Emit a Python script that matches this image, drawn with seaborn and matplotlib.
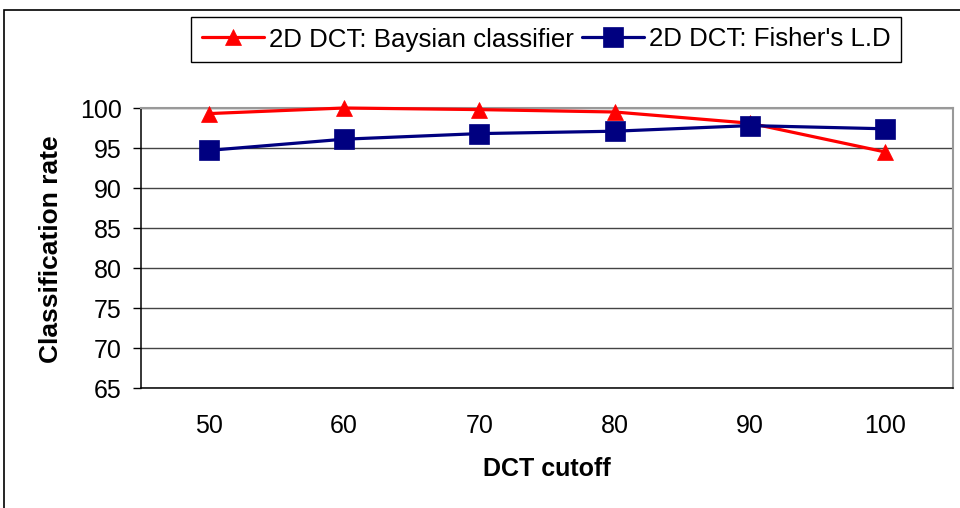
import matplotlib
matplotlib.use("Agg")
import matplotlib.pyplot as plt
from matplotlib.patches import Rectangle
from matplotlib.ticker import FixedLocator
import pandas as pd
import seaborn as sns

# DCT cutoff levels and recognition rates (%) for the two classifiers
cutoffs = ["50", "60", "70", "80", "90", "100"]
bayes_rates = [99.3, 100.0, 99.8, 99.5, 98.1, 94.5]
fisher_rates = [94.7, 96.1, 96.8, 97.1, 97.8, 97.4]
series_names = ["2D DCT: Baysian classifier", "2D DCT: Fisher's L.D"]
y_ticks = [65, 70, 75, 80, 85, 90, 95, 100]

df = pd.DataFrame({
    "cutoff": cutoffs * 2,
    "rate": bayes_rates + fisher_rates,
    "method": [series_names[0]] * len(cutoffs) + [series_names[1]] * len(cutoffs),
})

sns.set_theme(style="white")
plt.rcParams["font.family"] = ["Liberation Sans", "DejaVu Sans"]
plt.rcParams.update({
    "text.color": "black",
    "axes.labelcolor": "black",
    "xtick.color": "black",
    "ytick.color": "black",
})

W, H = 960, 508
fig = plt.figure(figsize=(W / 100, H / 100), dpi=100)
ax = fig.add_axes([141 / W, 1 - 388 / H, (953 - 141) / W, (388 - 108) / H])

styles = {
    series_names[0]: dict(color="#FF0000", marker="^", markersize=11),
    series_names[1]: dict(color="#000080", marker="s", markersize=14),
}
for name in series_names:
    st = styles[name]
    sns.lineplot(
        data=df[df["method"] == name], x="cutoff", y="rate", ax=ax,
        sort=False, color=st["color"], marker=st["marker"],
        markersize=st["markersize"], markeredgecolor=st["color"],
        markeredgewidth=0.5, linewidth=2.3, label=name, clip_on=False,
        zorder=3,
    )

ax.set_xlim(-0.5, len(cutoffs) - 0.5)
ax.set_ylim(65, 100)
ax.set_yticks(y_ticks)
ax.set_yticklabels([str(t) for t in y_ticks])
ax.set_xticks(range(len(cutoffs)))
ax.set_xticklabels(cutoffs)
ax.xaxis.set_minor_locator(FixedLocator([i - 0.5 for i in range(len(cutoffs) + 1)]))

ax.tick_params(axis="x", which="major", length=0, pad=19, labelsize=18, labelcolor="black")
ax.tick_params(axis="x", which="minor", length=6, width=1, color="black", direction="out")
ax.tick_params(axis="y", which="major", length=6, width=1, color="black",
               direction="out", pad=8, labelsize=18, left=True, labelcolor="black")

ax.yaxis.grid(True, color="#444444", linewidth=1)
ax.xaxis.grid(False)
ax.set_axisbelow(True)

for side in ["left", "bottom"]:
    ax.spines[side].set_color("black")
    ax.spines[side].set_linewidth(1.1)
for side in ["top", "right"]:
    ax.spines[side].set_color("#999999")
    ax.spines[side].set_linewidth(1.5)

ax.set_xlabel("DCT cutoff", fontsize=18, fontweight="bold", va="center", color="black")
ax.set_ylabel("Classification rate", fontsize=19, fontweight="bold", va="center", color="black")
ax.xaxis.set_label_coords((547 - 141) / 812, (388 - 469) / 280)
ax.yaxis.set_label_coords((51 - 141) / 812, (388 - 249) / 280)

handles, labels = ax.get_legend_handles_labels()
ax.legend(
    handles, labels, ncol=2, loc="center",
    bbox_to_anchor=(546 / W, 1 - 39.5 / H), bbox_transform=fig.transFigure,
    fontsize=18.6, frameon=True, fancybox=False, edgecolor="black",
    framealpha=1, handlelength=2.4, handletextpad=0.2, columnspacing=0.3,
    borderpad=0.42, borderaxespad=0, labelcolor="black",
)
leg = ax.get_legend()
leg.get_frame().set_linewidth(1.0)

# chart-area frame
fig.patches.append(Rectangle((4 / W, -0.1), 2, 1 - 10 / H + 0.1,
                             transform=fig.transFigure, fill=False,
                             edgecolor="black", linewidth=1.2))

fig.savefig("out.png", dpi=100)
